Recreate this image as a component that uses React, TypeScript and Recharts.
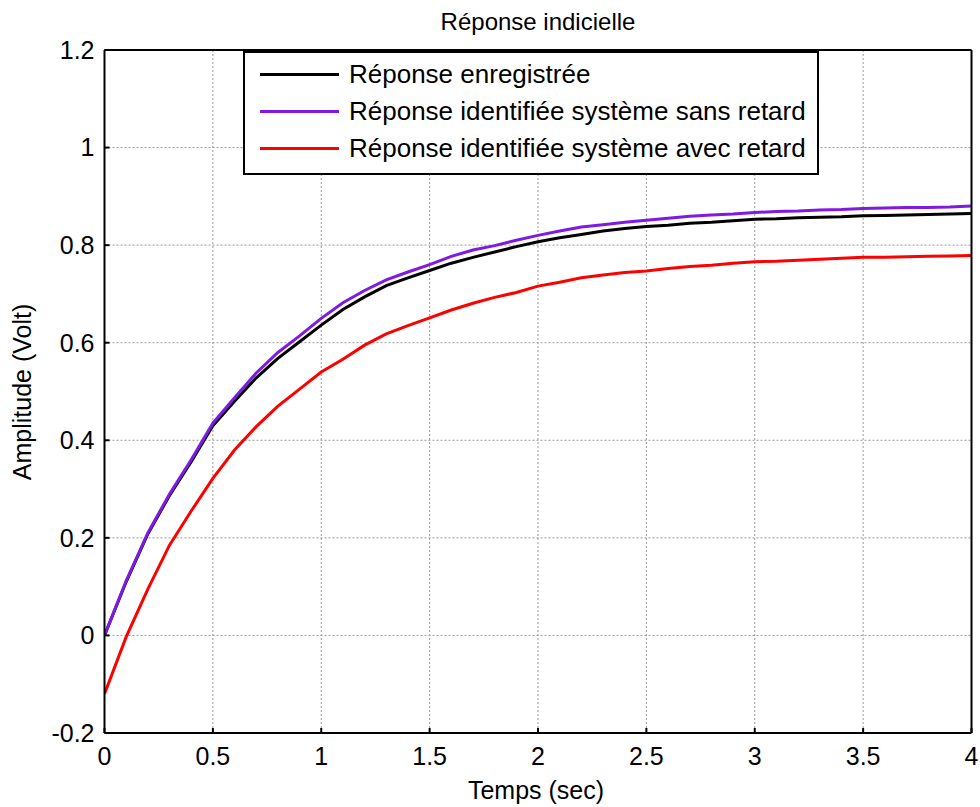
import { LineChart, Line, XAxis, YAxis, CartesianGrid } from 'recharts'

const times = [
  0, 0.1, 0.2, 0.3, 0.4, 0.5, 0.6, 0.7, 0.8, 0.9, 1, 1.1, 1.2, 1.3, 1.4, 1.5, 1.6, 1.7, 1.8, 1.9, 2,
  2.1, 2.2, 2.3, 2.4, 2.5, 2.6, 2.7, 2.8, 2.9, 3, 3.1, 3.2, 3.3, 3.4, 3.5, 3.6, 3.7, 3.8, 3.9, 4,
]

const enregistree = [
  0, 0.11, 0.208, 0.287, 0.356, 0.43, 0.48, 0.528, 0.568, 0.602, 0.636, 0.668, 0.694, 0.717, 0.733,
  0.748, 0.763, 0.775, 0.786, 0.797, 0.807, 0.815, 0.822, 0.829, 0.834, 0.838, 0.841, 0.845, 0.847,
  0.85, 0.853, 0.854, 0.856, 0.857, 0.858, 0.86, 0.861, 0.862, 0.863, 0.864, 0.865,
]

const sansRetard = [
  0, 0.112, 0.21, 0.29, 0.36, 0.435, 0.487, 0.538, 0.58, 0.614, 0.65, 0.682, 0.707, 0.729, 0.745,
  0.76, 0.777, 0.79, 0.799, 0.81, 0.82, 0.829, 0.837, 0.842, 0.847, 0.851, 0.855, 0.859, 0.862,
  0.864, 0.867, 0.869, 0.87, 0.872, 0.873, 0.875, 0.876, 0.877, 0.877, 0.878, 0.88,
]

const avecRetard = [
  -0.12, -0.003, 0.095, 0.185, 0.255, 0.322, 0.38, 0.428, 0.47, 0.505, 0.54, 0.566, 0.595, 0.618,
  0.635, 0.651, 0.667, 0.681, 0.693, 0.703, 0.716, 0.724, 0.733, 0.739, 0.744, 0.747, 0.752, 0.756,
  0.759, 0.763, 0.766, 0.767, 0.769, 0.771, 0.773, 0.775, 0.775, 0.776, 0.777, 0.778, 0.779,
]

const xTicks = [0, 0.5, 1, 1.5, 2, 2.5, 3, 3.5, 4]
const yTicks = [-0.2, 0, 0.2, 0.4, 0.6, 0.8, 1, 1.2]

const series = [
  { key: 'enregistree', name: 'Réponse enregistrée', color: '#000000' },
  { key: 'sansRetard', name: 'Réponse identifiée système sans retard', color: '#7f1ae4' },
  { key: 'avecRetard', name: 'Réponse identifiée système avec retard', color: '#ff0000' },
]

const data = times.map((t, i) => ({
  t,
  enregistree: enregistree[i],
  sansRetard: sansRetard[i],
  avecRetard: avecRetard[i],
}))

const font = '"Liberation Sans", Arial, sans-serif'
const tickStyle = { fontSize: 25, fill: '#000', fontFamily: font }
const black = { stroke: '#000', strokeWidth: 2 }

// legend drawn on top of the plot, MATLAB style box
function LegendBox() {
  return (
    <div
      style={{
        position: 'absolute',
        left: 243,
        top: 51,
        width: 572,
        height: 117,
        border: '2px solid #000',
        background: '#fff',
        fontFamily: font,
        fontSize: 26,
        paddingTop: 3,
      }}
    >
      {series.map((s) => (
        <div key={s.key} style={{ display: 'flex', alignItems: 'center', height: 37 }}>
          <div style={{ width: 79, height: 3, background: s.color, marginLeft: 15, marginRight: 10 }} />
          <span style={{ color: '#000', whiteSpace: 'nowrap' }}>{s.name}</span>
        </div>
      ))}
    </div>
  )
}

export default function App() {
  return (
    <div style={{ position: 'absolute', left: 0, top: 0, width: 980, height: 807, background: '#fff' }}>
      <LineChart
        width={980}
        height={807}
        data={data}
        margin={{ top: 49, right: 7.5, left: 44.5, bottom: 24 }}
      >
        <CartesianGrid stroke="#999999" strokeDasharray="2 2" strokeWidth={1} />
        <XAxis
          dataKey="t"
          type="number"
          domain={[0, 4]}
          ticks={xTicks}
          interval={0}
          allowDataOverflow
          height={50}
          tick={tickStyle}
          tickSize={-5}
          tickMargin={19}
          tickLine={black}
          axisLine={black}
        />
        <XAxis
          xAxisId="top"
          orientation="top"
          dataKey="t"
          type="number"
          domain={[0, 4]}
          ticks={xTicks}
          interval={0}
          height={1}
          tick={false}
          tickSize={-5}
          tickLine={black}
          axisLine={black}
        />
        <YAxis
          type="number"
          domain={[-0.2, 1.2]}
          ticks={yTicks}
          interval={0}
          allowDataOverflow
          width={60}
          tick={tickStyle}
          tickSize={-5}
          tickMargin={15}
          tickLine={black}
          axisLine={black}
        />
        <YAxis
          yAxisId="right"
          orientation="right"
          type="number"
          domain={[-0.2, 1.2]}
          ticks={yTicks}
          interval={0}
          width={1}
          tick={false}
          tickSize={-5}
          tickLine={black}
          axisLine={black}
        />
        {series.map((s) => (
          <Line
            key={s.key}
            type="linear"
            dataKey={s.key}
            name={s.name}
            stroke={s.color}
            strokeWidth={3}
            dot={false}
            isAnimationActive={false}
          />
        ))}
      </LineChart>
      <LegendBox />
      <div
        style={{
          position: 'absolute',
          left: 538,
          top: 8,
          transform: 'translateX(-50%)',
          fontFamily: font,
          fontSize: 24,
          whiteSpace: 'nowrap',
          lineHeight: '28px',
        }}
      >
        Réponse indicielle
      </div>
      <div
        style={{
          position: 'absolute',
          left: 536,
          top: 776,
          transform: 'translateX(-50%)',
          fontFamily: font,
          fontSize: 25,
          whiteSpace: 'nowrap',
          lineHeight: '29px',
        }}
      >
        Temps (sec)
      </div>
      <div
        style={{
          position: 'absolute',
          left: 22,
          top: 392,
          transform: 'translate(-50%, -50%) rotate(-90deg)',
          fontFamily: font,
          fontSize: 25,
          whiteSpace: 'nowrap',
          lineHeight: '29px',
        }}
      >
        Amplitude (Volt)
      </div>
    </div>
  )
}
